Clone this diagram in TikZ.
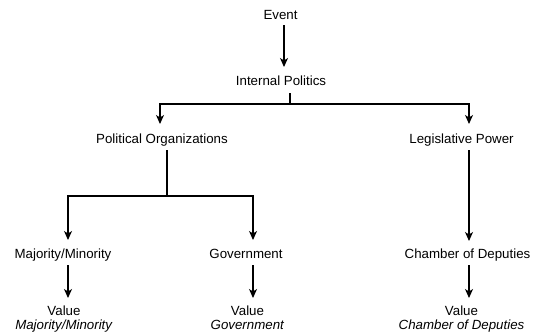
\documentclass[tikz,border=0pt]{standalone}
\usepackage{fontspec}
\setmainfont{Liberation Sans}
\usetikzlibrary{arrows.meta,calc}
\begin{document}
\begin{tikzpicture}[x=1pt,y=-1pt,
  lbl/.style={font=\fontsize{13.3}{14}\selectfont, inner sep=0pt, text height=9.6pt, text depth=3pt, anchor=base},
  val/.style={font=\fontsize{13.3}{13.5}\selectfont, inner sep=0pt, align=center, anchor=north},
  ln/.style={line width=1.1pt, black},
  arr/.style={ln, -{Stealth[length=9pt,width=8pt,inset=2.5pt]}}]
\useasboundingbox (0,0) rectangle (537,335);
% nodes
\node[lbl] (ev) at (280.5,19) {Event};
\node[lbl] (ip) at (281,85) {Internal Politics};
\node[lbl] (po) at (162,143) {Political Organizations};
\node[lbl] (lp) at (461.5,143) {Legislative Power};
\node[lbl] (mm) at (63,258.5) {Majority/Minority};
\node[lbl] (gv) at (246,258.5) {Government};
\node[lbl] (cd) at (467.5,258.5) {Chamber of Deputies};
\node[val] (v1) at (64,306) {Value\\\textit{Majority/Minority}};
\node[val] (v2) at (247.5,306) {Value\\\textit{Government}};
\node[val] (v3) at (461.5,306) {Value\\\textit{Chamber of Deputies}};
% connectors
\draw[arr] ($(ev.base)+(3.5,6)$) -- ($(ip.base)+(3,-18)$);
\coordinate (j1) at ($(ip.base)+(9,19)$);
\draw[ln] ($(ip.base)+(9,8)$) -- (j1);
\draw[arr] (j1) -| ($(po.base)+(-2,-19)$);
\draw[arr] (j1) -| ($(lp.base)+(7.5,-19)$);
\coordinate (j2) at ($(po.base)+(5,53)$);
\draw[ln] ($(po.base)+(5,7)$) -- (j2);
\draw[arr] (j2) -| ($(mm.base)+(5,-18.5)$);
\draw[arr] (j2) -| ($(gv.base)+(7,-18.5)$);
\draw[arr] ($(lp.base)+(7.5,7)$) -- ($(cd.base)+(1.5,-17.5)$);
\draw[arr] ($(mm.base)+(5,6.5)$) -- ($(v1.north)+(4,-8)$);
\draw[arr] ($(gv.base)+(7,6.5)$) -- ($(v2.north)+(5.5,-8)$);
\draw[arr] ($(cd.base)+(1.5,6.5)$) -- ($(v3.north)+(7.5,-8)$);
\end{tikzpicture}
\end{document}
